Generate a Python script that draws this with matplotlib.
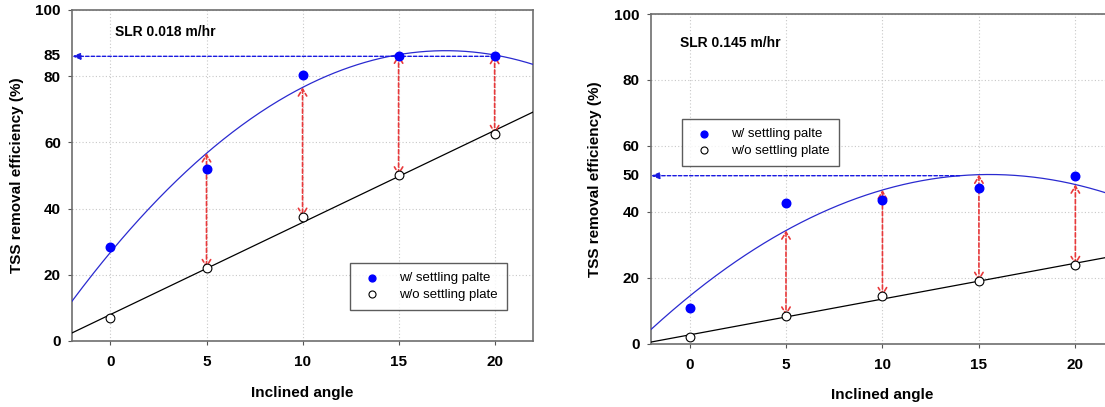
import matplotlib
matplotlib.use('Agg')
import matplotlib.pyplot as plt
import numpy as np

plt.rcParams['font.family'] = ['Liberation Sans', 'DejaVu Sans']

# data
angles = np.array([0, 5, 10, 15, 20])
left_with = np.array([28.5, 52.0, 80.5, 86.0, 86.0])
left_without = np.array([7.0, 22.0, 37.5, 50.0, 62.5])
right_with = np.array([10.9, 42.6, 43.6, 47.2, 50.9])
right_without = np.array([2.0, 8.6, 14.5, 19.1, 23.9])

left_title = 'SLR 0.018 m/hr'
right_title = 'SLR 0.145 m/hr'
left_mark, left_mark_label, left_mark_from = 86.0, '85', 20
right_mark, right_mark_label, right_mark_from = 51.0, '50', 14
arrow_x = [5, 10, 15, 20]

fig = plt.figure(figsize=(11.05, 4.07), dpi=100)
ax1 = fig.add_axes([0.0652, 0.1622, 0.4172, 0.8133])
ax2 = fig.add_axes([0.5891, 0.1548, 0.4190, 0.8108])

def draw(ax, yw, yo, title, title_pos, leg_pos, mark, mark_label, mark_from, xlab_y):
    xx = np.linspace(-2, 22, 300)
    quad = np.polyfit(angles, yw, 2)
    lin = np.polyfit(angles, yo, 1)
    ax.plot(xx, np.polyval(quad, xx), color='#2a2ad0', lw=0.9, zorder=3)
    ax.plot(xx, np.polyval(lin, xx), color='black', lw=0.9, zorder=3)

    for xa in arrow_x:
        ytop = np.polyval(quad, xa)
        ybot = yo[list(angles).index(xa)]
        ax.annotate('', xy=(xa, ybot), xytext=(xa, ytop),
                    arrowprops=dict(arrowstyle='<->,head_length=0.5,head_width=0.3',
                                    color='#e8393b', lw=1.2, ls=(0, (2.5, 1.5)),
                                    shrinkA=0, shrinkB=0), zorder=4)

    ax.annotate('', xy=(-2, mark), xytext=(mark_from, mark),
                arrowprops=dict(arrowstyle='-|>,head_length=0.5,head_width=0.2',
                                color='#1a1ae0', lw=1.0, ls=(0, (2.5, 1.5)),
                                shrinkA=0, shrinkB=0), zorder=4)
    ax.text(-0.025, mark, mark_label, transform=ax.get_yaxis_transform(),
            ha='right', va='center', fontsize=11, fontweight='bold')

    ax.scatter(angles, yw, s=38, color='#0000ff', zorder=5, label='w/ settling palte')
    ax.scatter(angles, yo, s=40, facecolor='white', edgecolor='black', lw=0.8,
               zorder=5, label='w/o settling plate')

    ax.set_xlim(-2, 22)
    ax.set_ylim(0, 100)
    ax.set_xticks([0, 5, 10, 15, 20])
    ax.set_yticks([0, 20, 40, 60, 80, 100])
    ax.grid(True, color='#c8c8c8', ls=(0, (1, 2)), lw=0.8)
    ax.set_axisbelow(True)
    ax.tick_params(direction='out', length=3, width=0.8, labelsize=11, color='#555555')
    for lab in ax.get_xticklabels() + ax.get_yticklabels():
        lab.set_fontweight('bold')
    ax.tick_params(axis='x', pad=7)
    ax.tick_params(axis='y', pad=5)
    for s in ax.spines.values():
        s.set_color('#6e6e6e')
        s.set_linewidth(1.2)

    ax.set_xlabel('Inclined angle', fontsize=11, fontweight='bold')
    ax.set_ylabel('TSS removal efficiency (%)', fontsize=11, fontweight='bold')
    ax.xaxis.set_label_coords(0.5, xlab_y)
    ax.yaxis.set_label_coords(-0.105, 0.5)
    ax.text(title_pos[0], title_pos[1], title, transform=ax.transAxes,
            fontsize=10, fontweight='bold', va='center', ha='left')

    leg = ax.legend(loc='lower left', bbox_to_anchor=leg_pos, frameon=True,
                    fancybox=False, edgecolor='#333333', fontsize=9.5,
                    handletextpad=1.0, borderpad=0.7, labelspacing=0.3,
                    markerscale=0.8, borderaxespad=0)
    leg.get_frame().set_linewidth(1.0)
    leg.set_zorder(6)

draw(ax1, left_with, left_without, left_title, (0.093, 0.934), (0.603, 0.094),
     left_mark, left_mark_label, left_mark_from, -0.137)
draw(ax2, right_with, right_without, right_title, (0.063, 0.911), (0.067, 0.54),
     right_mark, right_mark_label, right_mark_from, -0.133)

fig.savefig('out.png', dpi=100)
